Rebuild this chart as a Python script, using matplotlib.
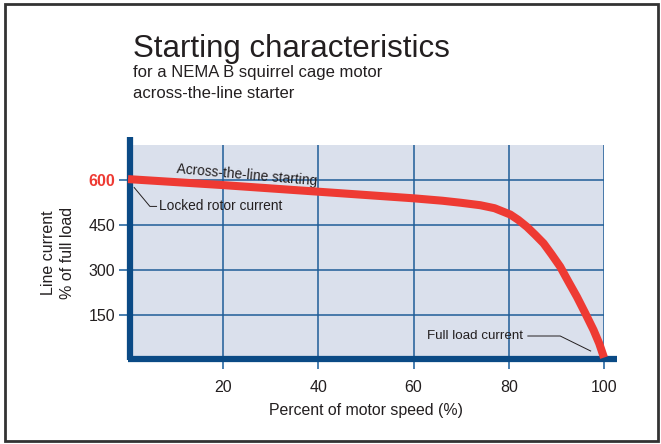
import matplotlib.pyplot as plt
from matplotlib.patches import Rectangle

# curve
speed = [0, 10, 20, 30, 40, 50, 60, 66, 70, 74, 77, 80.3, 82, 83.8, 85.5, 87.3, 89, 90.8,
         92.5, 94.3, 96, 97.8, 99, 100]
current = [603, 593, 583, 572, 561, 550, 539, 531, 524, 516, 506, 485, 467, 444, 418, 389,
           352, 311, 262, 211, 158, 100, 55, 8]

x_ticks = [20, 40, 60, 80, 100]
y_ticks = [150, 300, 450, 600]

plt.rcParams['font.family'] = ['Liberation Sans', 'DejaVu Sans']

navy = '#0a4a85'
grid_blue = '#3a75aa'
red = '#ee3a33'
text_col = '#231f20'

fig = plt.figure(figsize=(6.61, 4.44), dpi=100)
W, H = 661, 444

# outer frame
fig.patches.append(Rectangle((5 / W, 3 / H), 653 / W, 437 / H, transform=fig.transFigure,
                             fill=False, edgecolor='#333333', lw=2))

ax = fig.add_axes([128 / W, 1 - 360 / H, 476 / W, 215 / H])
ax.set_facecolor('#dae0ec')
ax.set_xlim(0, 100)
ax.set_ylim(0, 716.7)

for s in ax.spines.values():
    s.set_visible(False)

ax.set_xticks(x_ticks)
ax.set_yticks(y_ticks)
ax.set_xticklabels([str(v) for v in x_ticks])
ax.set_yticklabels([str(v) for v in y_ticks])
ax.tick_params(axis='both', colors=grid_blue, length=6.5, width=1.3, labelsize=11.5,
               labelcolor=text_col, pad=2.5)
ax.tick_params(axis='x', pad=8)
ax.get_yticklabels()[-1].set_color(red)
ax.get_yticklabels()[-1].set_fontweight('bold')

ax.grid(True, color='#1f5d98', lw=1.1)
ax.set_axisbelow(True)

# thick spines, extending past the shaded area
ax.plot([0.004, 0.004], [0, 1.035], transform=ax.transAxes, color=navy, lw=4.5,
        clip_on=False, solid_capstyle='butt', zorder=4)
ax.plot([0, 1.027], [0.004, 0.004], transform=ax.transAxes, color=navy, lw=4.5,
        clip_on=False, solid_capstyle='butt', zorder=4)

ax.plot(speed, current, color=red, lw=5.8, solid_capstyle='butt', solid_joinstyle='round',
        zorder=5, clip_on=False)

ax.text(10, 612, 'Across-the-line starting', fontsize=9.9, color=text_col,
        rotation=-5, rotation_mode='anchor', ha='left', va='bottom')
ax.plot([1.3, 4.6, 6.0], [575, 512, 512], color=text_col, lw=0.7)
ax.text(6.5, 512, 'Locked rotor current', fontsize=9.9, color=text_col, va='center')
ax.plot([84, 90.8, 97.2], [80, 80, 30], color=text_col, lw=0.7)
ax.text(83, 80, 'Full load current', fontsize=9.6, color=text_col, va='center', ha='right')

ax.set_xlabel('Percent of motor speed (%)', fontsize=11.4, color=text_col, labelpad=6)
ax.set_ylabel('Line current\n% of full load', fontsize=11.5, color=text_col, labelpad=10,
              linespacing=1.3)

fig.text(133 / W, 1 - 57 / H, 'Starting characteristics', fontsize=22.5, color=text_col)
fig.text(133 / W, 1 - 77 / H, 'for a NEMA B squirrel cage motor', fontsize=12, color=text_col)
fig.text(133 / W, 1 - 98 / H, 'across-the-line starter', fontsize=12, color=text_col)

fig.savefig('out.png', dpi=100)
